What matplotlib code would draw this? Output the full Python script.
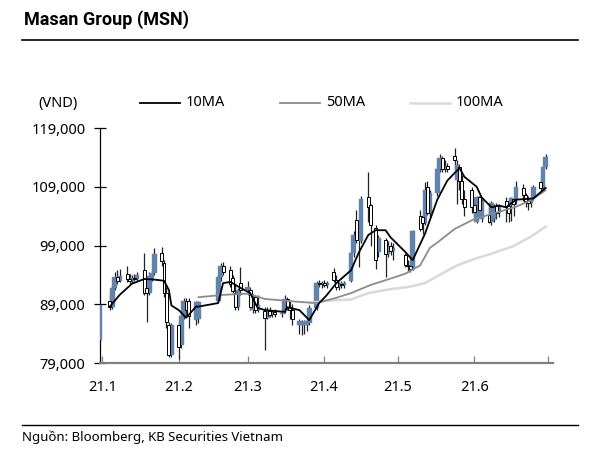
import numpy as np
import pandas as pd
import matplotlib
matplotlib.use("Agg")
import matplotlib.pyplot as plt
import matplotlib.dates as mdates
from matplotlib.lines import Line2D

plt.rcParams['font.family'] = ['Noto Sans', 'DejaVu Sans']

# Daily prices, thousand VND
dates = ['2020-12-31',
         '2021-01-04', '2021-01-05', '2021-01-06', '2021-01-07', '2021-01-08',
         '2021-01-11', '2021-01-12', '2021-01-13', '2021-01-14', '2021-01-15',
         '2021-01-18', '2021-01-19', '2021-01-20', '2021-01-21', '2021-01-22',
         '2021-01-25', '2021-01-26', '2021-01-27', '2021-01-28', '2021-01-29',
         '2021-02-01', '2021-02-02', '2021-02-03', '2021-02-04', '2021-02-05',
         '2021-02-08', '2021-02-09', '2021-02-17', '2021-02-18', '2021-02-19',
         '2021-02-22', '2021-02-23', '2021-02-24', '2021-02-25', '2021-02-26',
         '2021-03-01', '2021-03-02', '2021-03-03', '2021-03-04', '2021-03-05',
         '2021-03-08', '2021-03-09', '2021-03-10', '2021-03-11', '2021-03-12',
         '2021-03-15', '2021-03-16', '2021-03-17', '2021-03-18', '2021-03-19',
         '2021-03-22', '2021-03-23', '2021-03-24', '2021-03-25', '2021-03-26',
         '2021-03-29', '2021-03-30', '2021-03-31', '2021-04-01', '2021-04-02',
         '2021-04-05', '2021-04-06', '2021-04-07', '2021-04-08', '2021-04-09',
         '2021-04-12', '2021-04-13', '2021-04-14', '2021-04-15', '2021-04-16',
         '2021-04-19', '2021-04-20', '2021-04-22', '2021-04-23',
         '2021-04-26', '2021-04-27', '2021-04-28', '2021-04-29',
         '2021-05-04', '2021-05-05', '2021-05-06', '2021-05-07',
         '2021-05-10', '2021-05-11', '2021-05-12', '2021-05-13', '2021-05-14',
         '2021-05-17', '2021-05-18', '2021-05-19', '2021-05-20', '2021-05-21',
         '2021-05-24', '2021-05-25', '2021-05-26', '2021-05-27', '2021-05-28',
         '2021-05-31', '2021-06-01', '2021-06-02', '2021-06-03', '2021-06-04',
         '2021-06-07', '2021-06-08', '2021-06-09', '2021-06-10', '2021-06-11',
         '2021-06-14', '2021-06-15', '2021-06-16', '2021-06-17', '2021-06-18',
         '2021-06-21', '2021-06-22', '2021-06-23', '2021-06-24', '2021-06-25',
         '2021-06-28', '2021-06-29', '2021-06-30']

opens = [83.0,
         89.5, 88.6, 91.8, 93.6, 93.0,
         94.2, 93.3, 93.0, 93.5, 93.3,
         94.8, 91.8, 91.0, 93.5, 94.3,
         97.8, 96.0, 91.0, 85.5, 80.4,
         85.5, 82.0, 87.0, 89.5, 89.6,
         86.3, 86.5, 89.5, 93.6, 95.5,
         94.8, 93.5, 91.0, 88.5, 92.6,
         91.4, 91.5, 88.0, 90.2, 88.0,
         87.8, 86.7, 87.8, 87.2, 87.6,
         87.3, 87.8, 89.9, 88.6, 88.0,
         85.5, 85.4, 85.5, 85.5, 85.8,
         88.4, 92.6, 92.4, 92.6, 92.3,
         94.5, 93.1, 92.0, 92.5, 92.2,
         93.0, 97.7, 103.3, 100.0, 99.8,
         107.2, 105.9, 102.0, 97.9,
         100.0, 97.5, 99.0, 98.0,
         97.4, 95.7, 95.5, 95.0,
         104.0, 103.8, 102.8, 109.0, 104.6,
         108.0, 112.0, 113.9, 112.0, 112.5,
         114.2, 110.2, 112.4, 110.0, 107.0,
         108.4, 105.9, 103.0, 107.2, 103.5,
         104.2, 103.0, 103.5, 105.8, 104.5,
         106.5, 105.8, 105.9, 107.0, 106.7,
         108.8, 107.6, 106.5, 106.2, 107.1,
         109.8, 108.8, 112.3]

highs = [89.0,
         91.0, 92.2, 94.5, 94.8, 95.0,
         95.5, 94.2, 94.0, 94.2, 94.5,
         97.8, 93.0, 94.5, 95.0, 98.5,
         98.8, 96.5, 92.0, 86.0, 85.8,
         86.0, 87.5, 90.0, 90.0, 90.0,
         89.5, 89.6, 94.0, 96.0, 96.2,
         95.5, 94.0, 92.5, 91.8, 95.3,
         93.0, 92.0, 90.8, 90.5, 90.5,
         88.5, 88.5, 88.5, 88.0, 88.2,
         88.4, 90.5, 90.2, 89.5, 89.0,
         86.5, 86.4, 86.3, 86.5, 88.8,
         93.0, 93.2, 93.0, 93.2, 93.0,
         95.2, 94.0, 92.8, 93.0, 93.0,
         98.0, 101.5, 105.0, 102.0, 107.5,
         111.5, 106.0, 102.5, 100.8,
         100.3, 99.8, 99.6, 99.5,
         97.8, 96.5, 96.2, 101.6,
         105.0, 104.2, 109.8, 110.0, 108.5,
         112.5, 114.5, 114.2, 113.5, 113.0,
         115.6, 113.6, 112.8, 111.0, 108.5,
         109.0, 106.5, 107.5, 107.5, 107.0,
         105.5, 106.5, 106.0, 106.2, 106.0,
         107.2, 107.0, 107.3, 107.5, 110.0,
         109.5, 108.0, 107.5, 107.0, 109.3,
         110.5, 112.5, 114.5]

lows = [82.8,
        88.0, 88.2, 91.5, 92.5, 92.8,
        92.8, 92.5, 92.6, 93.0, 93.0,
        90.5, 86.0, 90.5, 93.0, 94.0,
        95.5, 90.2, 85.0, 80.0, 80.0,
        79.7, 81.5, 86.5, 87.0, 85.0,
        85.5, 85.8, 89.3, 93.0, 94.0,
        92.0, 91.0, 88.0, 88.0, 90.5,
        90.5, 88.0, 87.5, 87.5, 87.6,
        81.2, 86.5, 86.8, 86.8, 86.9,
        86.8, 87.5, 88.0, 86.5, 85.5,
        84.0, 83.8, 84.0, 84.5, 85.5,
        88.0, 92.0, 91.8, 92.0, 91.8,
        92.8, 91.5, 91.5, 91.8, 91.8,
        92.8, 97.0, 99.5, 95.3, 99.5,
        103.0, 99.0, 95.0, 97.0,
        93.6, 97.0, 97.3, 96.5,
        95.3, 94.5, 94.5, 94.8,
        101.4, 101.0, 102.5, 104.2, 103.8,
        107.5, 111.5, 111.5, 111.5, 111.5,
        112.0, 106.0, 108.5, 106.0, 104.0,
        104.5, 104.0, 102.8, 104.0, 103.0,
        102.8, 102.5, 103.0, 103.5, 103.8,
        103.0, 103.0, 103.2, 104.0, 106.0,
        106.5, 105.5, 105.0, 105.5, 106.8,
        108.0, 108.5, 112.0]

closes = [88.8,
          88.6, 91.8, 93.6, 93.0, 93.8,
          93.3, 93.0, 93.5, 93.3, 94.0,
          91.0, 91.0, 93.8, 94.3, 97.5,
          96.3, 91.0, 86.0, 80.4, 85.5,
          81.8, 87.0, 89.5, 88.0, 87.0,
          89.3, 89.3, 93.6, 95.5, 94.5,
          92.5, 91.2, 88.5, 91.4, 91.4,
          92.0, 88.5, 90.2, 88.0, 88.8,
          86.7, 87.8, 87.2, 87.6, 87.3,
          87.5, 89.9, 88.6, 88.0, 86.5,
          86.2, 86.0, 86.0, 86.2, 88.4,
          92.6, 92.4, 92.6, 92.3, 92.7,
          93.1, 92.0, 92.5, 92.2, 92.6,
          97.7, 100.8, 100.0, 101.2, 107.0,
          105.6, 102.5, 96.5, 100.3,
          97.5, 99.0, 98.0, 98.5,
          95.7, 95.5, 95.0, 101.5,
          101.8, 102.8, 108.4, 104.6, 108.0,
          112.0, 113.9, 112.0, 112.5, 112.0,
          113.5, 112.7, 110.0, 107.0, 105.5,
          105.6, 104.7, 107.2, 105.0, 106.5,
          103.0, 106.2, 105.8, 104.5, 105.5,
          105.8, 104.5, 107.0, 106.0, 109.0,
          107.6, 106.5, 106.2, 106.8, 109.0,
          108.8, 112.3, 114.0]

# Moving averages as drawn on the chart
ma10_dates = ['2021-01-04', '2021-01-08', '2021-01-13', '2021-01-18', '2021-01-22',
              '2021-01-26', '2021-01-28', '2021-01-29', '2021-02-01', '2021-02-04',
              '2021-02-08', '2021-02-09', '2021-02-17', '2021-02-19', '2021-02-22',
              '2021-02-26', '2021-03-02', '2021-03-05', '2021-03-08', '2021-03-16',
              '2021-03-17', '2021-03-22', '2021-03-26', '2021-03-30', '2021-04-02',
              '2021-04-06', '2021-04-12', '2021-04-15', '2021-04-19', '2021-04-22',
              '2021-04-26', '2021-04-28', '2021-05-04', '2021-05-07', '2021-05-12',
              '2021-05-17', '2021-05-21', '2021-05-26', '2021-05-28', '2021-06-02',
              '2021-06-04', '2021-06-08', '2021-06-11', '2021-06-14', '2021-06-18',
              '2021-06-25', '2021-06-30']
ma10_values = [88.6, 90.6, 92.5, 93.3, 93.2,
               93.0, 91.4, 88.8, 88.0, 86.7,
               88.6, 88.6, 89.2, 92.6, 92.8,
               91.8, 90.9, 88.4, 88.0, 87.7,
               88.5, 88.0, 86.3, 89.2, 90.5,
               92.6, 94.8, 97.7, 100.8, 101.6,
               101.6, 100.4, 97.9, 96.5, 101.0,
               106.8, 110.0, 112.2, 110.7, 109.0,
               107.2, 105.5, 105.8, 105.5, 106.8,
               107.0, 108.8]

ma50_dates = ['2021-02-09', '2021-02-19', '2021-03-01', '2021-03-08', '2021-03-22',
              '2021-03-29', '2021-04-06', '2021-04-12', '2021-04-20', '2021-04-29',
              '2021-05-04', '2021-05-10', '2021-05-14', '2021-05-17', '2021-05-24',
              '2021-06-01', '2021-06-10', '2021-06-18', '2021-06-24', '2021-06-30']
ma50_values = [90.2, 90.6, 90.8, 89.9, 89.4,
               89.2, 90.1, 90.9, 92.3, 93.5,
               94.2, 95.6, 98.6, 99.5, 101.8,
               103.5, 104.6, 105.6, 106.7, 108.4]

ma100_dates = ['2021-03-26', '2021-04-02', '2021-04-12', '2021-04-19', '2021-04-27',
               '2021-05-06', '2021-05-12', '2021-05-18', '2021-05-25', '2021-06-01',
               '2021-06-08', '2021-06-17', '2021-06-24', '2021-06-30']
ma100_values = [89.2, 89.6, 89.8, 90.9, 91.5,
                92.0, 92.6, 94.0, 95.6, 96.7,
                97.6, 98.9, 100.5, 102.2]

month_ticks = ['2021-01-01', '2021-02-01', '2021-03-01', '2021-04-01',
               '2021-05-01', '2021-06-01', '2021-07-01']
month_labels = ['21.1', '21.2', '21.3', '21.4', '21.5', '21.6', '']
y_ticks = [79000, 89000, 99000, 109000, 119000]

up_color = '#6283ad'

x = mdates.date2num(pd.to_datetime(dates))
o = np.array(opens) * 1000
h = np.array(highs) * 1000
l = np.array(lows) * 1000
c = np.array(closes) * 1000

fig = plt.figure(figsize=(5.96, 4.55), dpi=100)
W, H = 596.0, 455.0
ax = fig.add_axes([100 / W, 1 - 363 / H, 453 / W, 235 / H])

# high-low lines
ax.vlines(x, l, h, color='#222222', linewidth=0.9, zorder=2)

# bodies: blue = up, white = down
up = c >= o
body_bottom = np.minimum(o, c)
body_height = np.maximum(np.abs(c - o), 200)
ax.bar(x[up], body_height[up], bottom=body_bottom[up], width=1.9,
       color=up_color, edgecolor=up_color, linewidth=0.3, zorder=3)
ax.bar(x[~up], body_height[~up], bottom=body_bottom[~up], width=1.2,
       color='white', edgecolor='black', linewidth=0.7, zorder=3)

# moving averages
ax.plot(mdates.date2num(pd.to_datetime(ma100_dates)), np.array(ma100_values) * 1000,
        color='#d9d9d9', linewidth=1.8, zorder=4)
ax.plot(mdates.date2num(pd.to_datetime(ma50_dates)), np.array(ma50_values) * 1000,
        color='#8c8c8c', linewidth=1.3, zorder=4)
ax.plot(mdates.date2num(pd.to_datetime(ma10_dates)), np.array(ma10_values) * 1000,
        color='black', linewidth=1.3, zorder=5)

ax.set_ylim(79000, 119000)
ax.set_xlim(mdates.date2num(pd.Timestamp('2020-12-31')),
            mdates.date2num(pd.Timestamp('2021-07-03')))

ax.set_yticks(y_ticks)
ax.set_yticklabels(['{:,}'.format(v) for v in y_ticks])
ax.set_xticks(mdates.date2num(pd.to_datetime(month_ticks)))
ax.set_xticklabels(month_labels)

ax.spines['top'].set_visible(False)
ax.spines['right'].set_visible(False)
ax.spines['left'].set_linewidth(0.9)
ax.spines['bottom'].set_color('#808080')
ax.spines['bottom'].set_linewidth(1.6)
ax.tick_params(axis='y', direction='inout', length=9, width=0.9,
               labelsize=10.5, pad=6)
ax.tick_params(axis='x', direction='in', length=5, width=0.9,
               color='#808080', labelsize=10.5, pad=12)

# header, legend and footer
fig.text(24 / W, 1 - 20 / H, 'Masan Group (MSN)', fontsize=13,
         fontweight='bold', family=['Roboto', 'DejaVu Sans'],
         va='center', ha='left')
fig.add_artist(Line2D([22 / W, 578 / W], [1 - 40 / H, 1 - 40 / H],
                      color='black', linewidth=1.2))
fig.text(38 / W, 1 - 103 / H, '(VND)', fontsize=10.5, va='center', ha='left')

legend_items = [('10MA', 'black', 1.3, 140), ('50MA', '#8c8c8c', 1.3, 280),
                ('100MA', '#d9d9d9', 1.8, 410)]
for name, col, lw, x0 in legend_items:
    fig.add_artist(Line2D([x0 / W, (x0 + 40) / W], [1 - 103 / H, 1 - 103 / H],
                          color=col, linewidth=lw))
    fig.text((x0 + 46) / W, 1 - 103 / H, name, fontsize=10.5, va='center', ha='left')

fig.add_artist(Line2D([22 / W, 578 / W], [1 - 425 / H, 1 - 425 / H],
                      color='black', linewidth=1.0))
fig.text(22 / W, 1 - 437 / H, 'Nguồn: Bloomberg, KB Securities Vietnam',
         fontsize=9.5, va='center', ha='left')

fig.savefig('out.png', dpi=100)
